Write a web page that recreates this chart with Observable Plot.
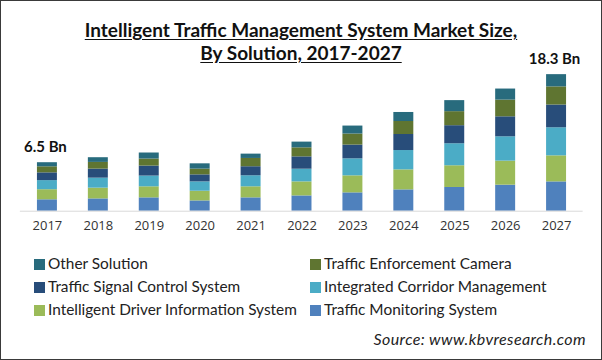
<!DOCTYPE html>
<html>
<head>
<meta charset="utf-8">
<script src="https://cdn.jsdelivr.net/npm/d3@7"></script>
<script src="https://cdn.jsdelivr.net/npm/@observablehq/plot@0.6"></script>
<style>
  html, body { margin: 0; padding: 0; background: #fff; }
  #wrap { position: relative; width: 602px; height: 360px; box-sizing: border-box; border: 1px solid #3a3a3a; overflow: hidden; background: #fff; }
  #title { position: absolute; top: 17px; left: 0; width: 600px; text-align: center; font-family: Lato, sans-serif; font-weight: 700; font-size: 19px; line-height: 23px; color: #111; text-decoration: underline; text-underline-offset: 2px; }
  #chart { position: absolute; top: 39px; left: -1px; }
  #legend { position: absolute; top: 252px; left: 0; width: 600px; font-family: Lato, sans-serif; font-size: 15.4px; color: #222; }
  .item { position: absolute; height: 20px; line-height: 20px; white-space: nowrap; }
  .sw { display: inline-block; width: 11px; height: 11px; margin-right: 3px; vertical-align: -1px; }
  #source { position: absolute; right: 15px; top: 328px; font-family: Lato, sans-serif; font-style: italic; font-size: 16px; letter-spacing: 0.4px; color: #222; }
</style>
</head>
<body>
<div id="wrap">
  <div id="title">Intelligent Traffic Management System Market Size,<br>By Solution, 2017-2027</div>
  <div id="chart"></div>
  <div id="legend"></div>
  <div id="source">Source: www.kbvresearch.com</div>
</div>
<script>
const years = ["2017","2018","2019","2020","2021","2022","2023","2024","2025","2026","2027"];
// series, bottom to top (USD Bn)
const trafficMonitoring   = [1.53, 1.65, 1.79, 1.38, 1.79, 2.05, 2.46, 2.86, 3.18, 3.49, 3.93];
const driverInformation   = [1.35, 1.44, 1.48, 1.30, 1.48, 1.88, 2.28, 2.68, 2.91, 3.22, 3.49];
const corridorManagement  = [1.22, 1.34, 1.44, 1.25, 1.48, 1.70, 2.28, 2.59, 2.95, 3.26, 3.76];
const signalControl       = [1.04, 1.21, 1.34, 0.94, 1.21, 1.65, 1.84, 2.15, 2.42, 2.68, 3.05];
const enforcementCamera   = [0.81, 0.90, 0.94, 0.77, 1.11, 1.21, 1.48, 1.74, 1.88, 2.24, 2.43];
const otherSolution       = [0.55, 0.63, 0.81, 0.71, 0.58, 0.77, 1.07, 1.21, 1.48, 1.48, 1.64];

const seriesNames = [
  "Traffic Monitoring System",
  "Intelligent Driver Information System",
  "Integrated Corridor Management",
  "Traffic Signal Control System",
  "Traffic Enforcement Camera",
  "Other Solution"
];
const seriesValues = [trafficMonitoring, driverInformation, corridorManagement, signalControl, enforcementCamera, otherSolution];
const seriesColors = ["#4f81bd", "#9bbb59", "#4bacc6", "#284d7a", "#5f7531", "#286b7d"];

const labelYears = ["2017", "2027"];
const labelTexts = ["6.5 Bn", "18.3 Bn"];

const legendOrder = [
  "Other Solution", "Traffic Enforcement Camera",
  "Traffic Signal Control System", "Integrated Corridor Management",
  "Intelligent Driver Information System", "Traffic Monitoring System"
];

const rows = [];
seriesNames.forEach((s, i) => years.forEach((y, j) => rows.push({year: y, series: s, value: seriesValues[i][j]})));

const totals = years.map((y, j) => seriesValues.reduce((a, arr) => a + arr[j], 0));
const labels = labelYears.map((y, k) => ({year: y, total: totals[years.indexOf(y)], text: labelTexts[k]}));

const chart = Plot.plot({
  width: 602,
  height: 205,
  marginLeft: 19.9,
  marginRight: 18.4,
  marginTop: 20,
  marginBottom: 34,
  style: {fontFamily: "'Open Sans', sans-serif", fontSize: "13px", color: "#333", background: "transparent"},
  x: {domain: years, paddingInner: 0.6, paddingOuter: 0.3, label: null, tickSize: 0, tickPadding: 10},
  y: {domain: [0, 20.2], axis: null},
  color: {domain: seriesNames, range: seriesColors},
  marks: [
    Plot.barY(rows, {x: "year", y: "value", fill: "series", order: seriesNames}),
    Plot.ruleY([0], {stroke: "#d9d9d9", strokeWidth: 1}),
    Plot.text(labels, {x: "year", y: "total", text: "text", dx: -2, dy: -11, lineAnchor: "bottom", fontFamily: "Lato, sans-serif", fontWeight: "bold", fontSize: 15, fill: "#111"})
  ]
});
document.getElementById("chart").appendChild(chart);

const legend = document.getElementById("legend");
legendOrder.forEach((name, k) => {
  const col = k % 2, row = Math.floor(k / 2);
  const d = document.createElement("div");
  d.className = "item";
  d.style.left = (col === 0 ? 33 : 309) + "px";
  d.style.top = (row * 23) + "px";
  const sw = document.createElement("span");
  sw.className = "sw";
  sw.style.background = seriesColors[seriesNames.indexOf(name)];
  d.appendChild(sw);
  d.appendChild(document.createTextNode(name));
  legend.appendChild(d);
});
</script>
</body>
</html>
